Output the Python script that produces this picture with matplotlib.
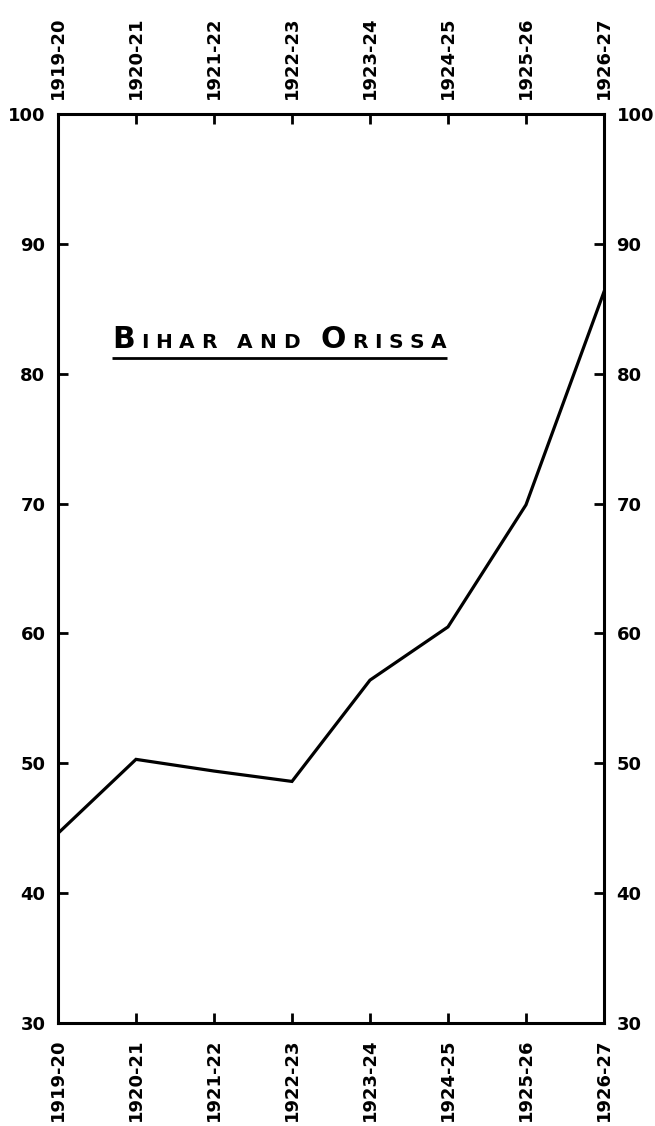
import matplotlib
matplotlib.use("Agg")
import matplotlib.pyplot as plt
from matplotlib.offsetbox import TextArea, HPacker, AnnotationBbox

years = ["1919-20", "1920-21", "1921-22", "1922-23",
         "1923-24", "1924-25", "1925-26", "1926-27"]
values = [44.6, 50.3, 49.4, 48.6, 56.4, 60.5, 69.9, 86.3]
yticks = [30, 40, 50, 60, 70, 80, 90, 100]

fig = plt.figure(figsize=(6.55, 11.26), dpi=100)
ax = fig.add_axes([0.0885, 0.0915, 0.8336, 0.8073])

x = list(range(len(years)))
ax.plot(x, values, color="black", lw=2.3, solid_joinstyle="miter")

ax.set_xlim(0, len(years) - 1)
ax.set_ylim(30, 100)

ax.set_xticks(x)
ax.set_xticklabels(years)
ax.set_yticks(yticks)
ax.set_yticklabels([str(v) for v in yticks], fontsize=13, fontweight="bold")

ax.tick_params(axis="both", direction="in", length=7, width=2, color="black",
               top=True, right=True, labeltop=True, labelright=True)
ax.tick_params(axis="x", pad=11)
ax.tick_params(axis="y", pad=9)

# years printed vertically, above and below the frame
for t in ax.xaxis.get_major_ticks():
    for lab in (t.label1, t.label2):
        lab.set_fontsize(13)
        lab.set_fontweight("bold")
        lab.set_rotation(90)
    t.label1.set_va("top")
    t.label2.set_va("bottom")

for side in ax.spines.values():
    side.set_linewidth(2.2)

# small-caps heading with letter spacing
big, small = 21.5, 14.5
letters = [("B", big), ("I", small), ("H", small), ("A", small), ("R", small),
           (" ", small), ("A", small), ("N", small), ("D", small), (" ", small),
           ("O", big), ("R", small), ("I", small), ("S", small), ("S", small),
           ("A", small)]
parts = [TextArea(ch, textprops=dict(fontsize=fs, fontweight="bold", color="black"))
         for ch, fs in letters]
heading = HPacker(children=parts, align="baseline", pad=0, sep=4.8)
ab = AnnotationBbox(heading, (0.099, 0.736), xycoords="axes fraction",
                    box_alignment=(0, 0), frameon=False, pad=0)
ax.add_artist(ab)
ax.plot([0.099, 0.712], [0.7315, 0.7315], transform=ax.transAxes,
        color="black", lw=2, solid_capstyle="butt")

fig.savefig("out.png", dpi=100, facecolor="white")
